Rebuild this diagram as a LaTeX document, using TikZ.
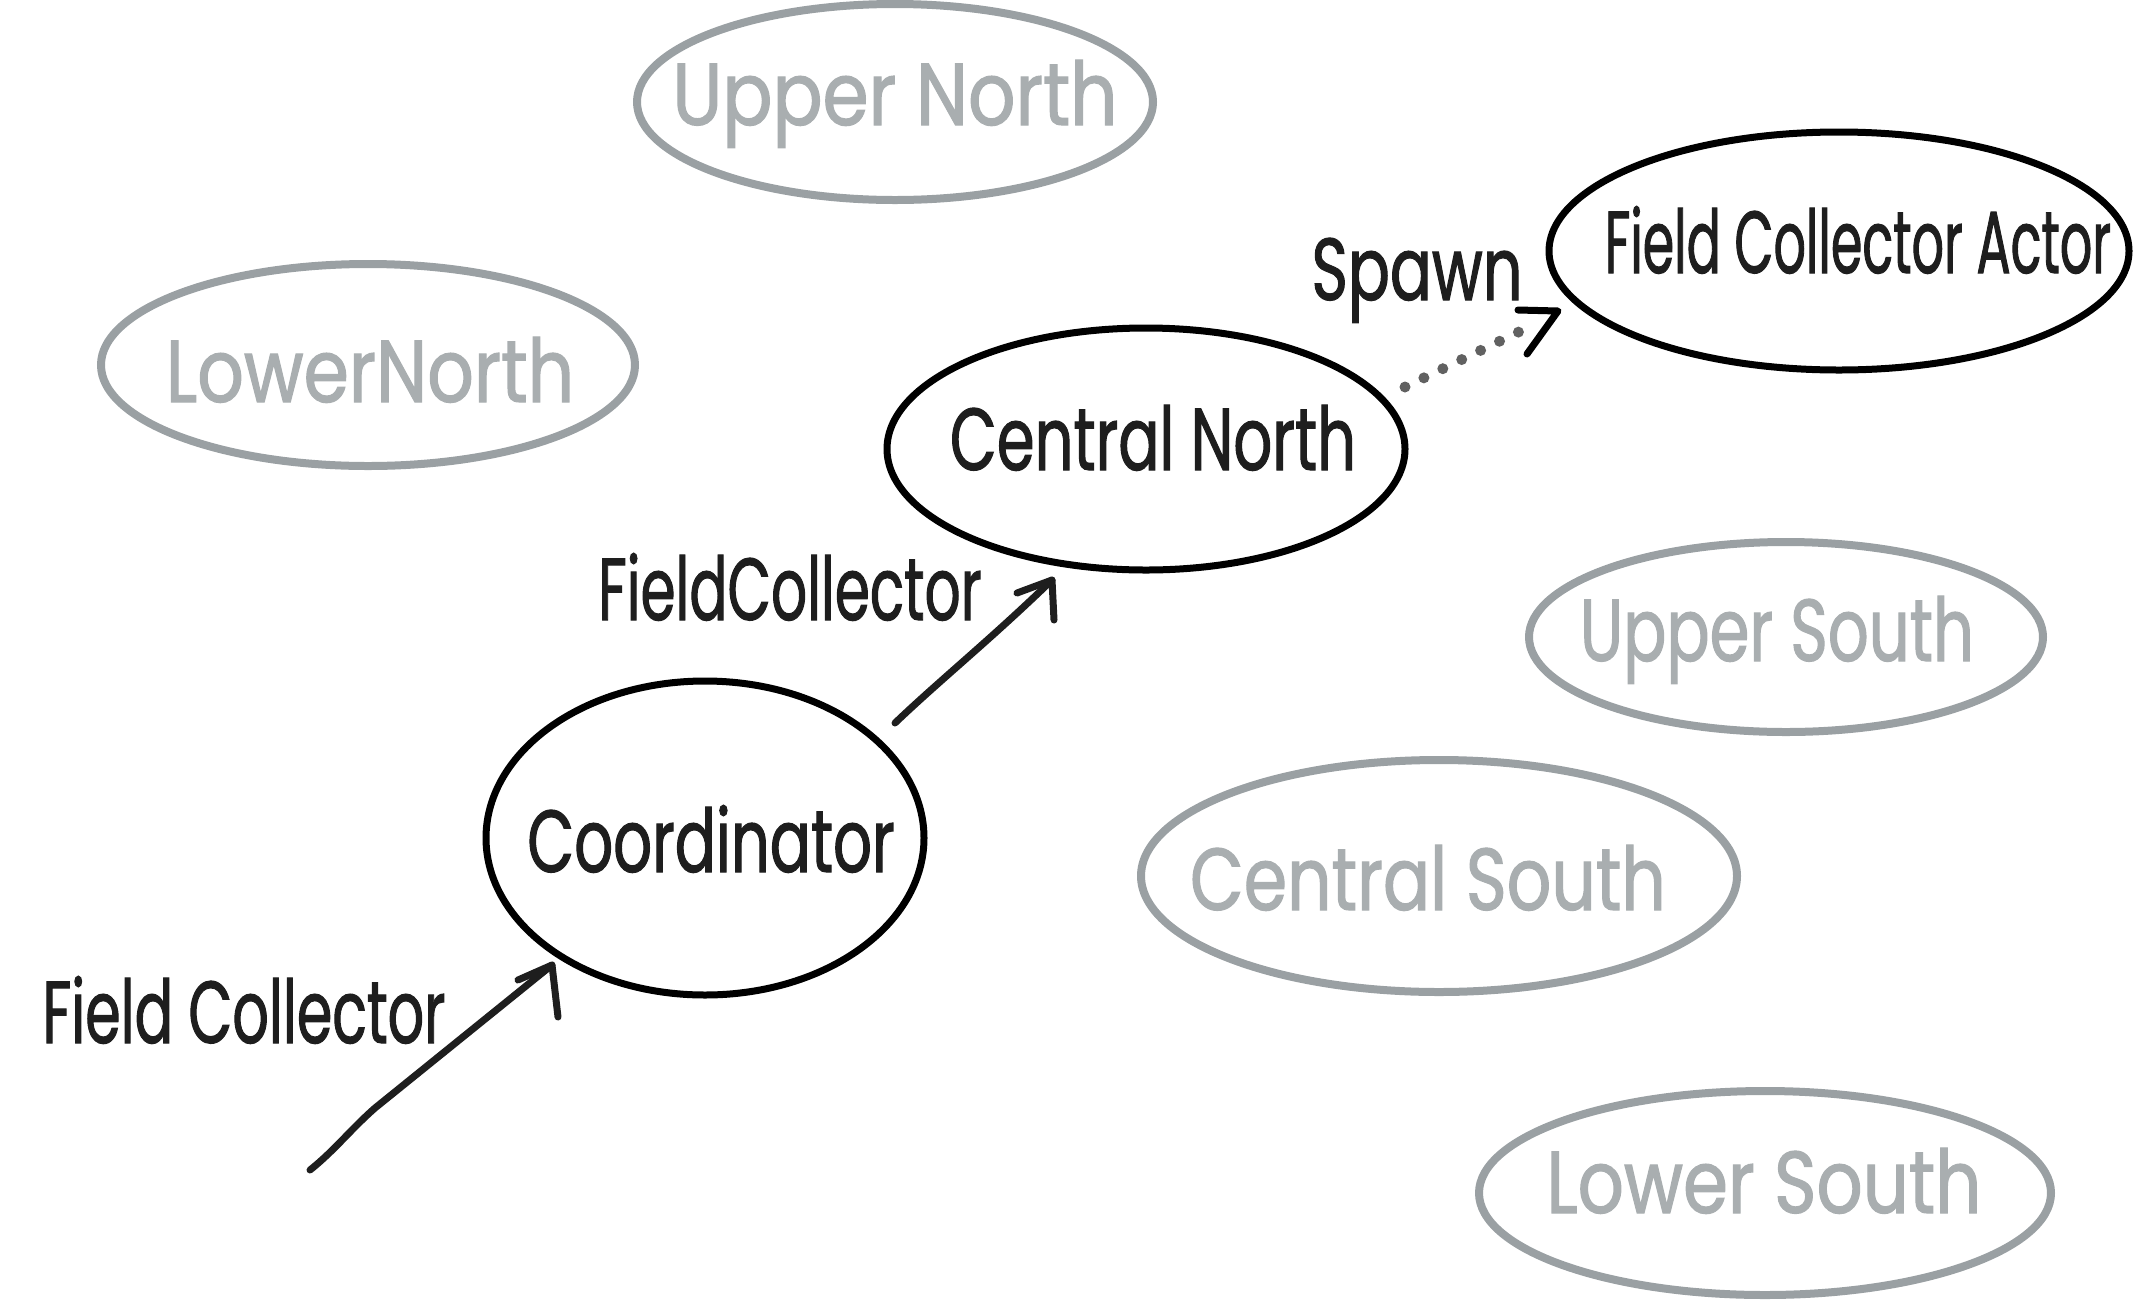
\documentclass[tikz,border=0pt]{standalone}
\usepackage{fontspec}
\setmainfont{Poppins}[FakeStretch=0.72,FakeBold=1.2]
\usetikzlibrary{shapes.geometric,calc}
\definecolor{gstroke}{HTML}{9AA0A3}
\definecolor{gtext}{HTML}{A9AEB0}
\definecolor{ink}{HTML}{1E1E1E}
\newcommand{\hs}[2]{\scalebox{#1}[1]{#2}}
\tikzset{
  hand/.style={font=\fontsize{88}{96}\selectfont, inner sep=0pt, anchor=base},
  actbox/.style={ellipse, draw=black, line width=7pt, inner sep=0pt},
  idlebox/.style={ellipse, draw=gstroke, line width=8pt, inner sep=0pt},
  acttext/.style={hand, text=ink},
  idletext/.style={hand, text=gtext},
  lbl/.style={hand, text=ink},
  hline/.style={draw=ink, line width=7pt, line cap=round, line join=round},
}
\begin{document}
\begin{tikzpicture}[x=1pt,y=-1pt]
\useasboundingbox (0,0) rectangle (2137,1302);
% ellipses
\node[idlebox, minimum width=516pt, minimum height=196pt] (un) at (895,102) {};
\node[idlebox, minimum width=534pt, minimum height=202pt] (ln) at (368,365) {};
\node[actbox, minimum width=580pt, minimum height=238pt] (fca) at (1839,251) {};
\node[actbox, minimum width=518pt, minimum height=242pt] (cn) at (1146,449) {};
\node[idlebox, minimum width=514pt, minimum height=190pt] (us) at (1786,637) {};
\node[actbox, minimum width=438pt, minimum height=314pt] (co) at (705,838) {};
\node[idlebox, minimum width=596pt, minimum height=232pt] (cs) at (1439,876) {};
\node[idlebox, minimum width=572pt, minimum height=204pt] (ls) at (1765,1193) {};
% texts in ellipses
\node[idletext] (un-t) at (895,125) {\hs{1.17}{Upper North}};
\node[idletext] (ln-t) at (370,402) {\hs{1.15}{LowerNorth}};
\node[acttext] (fca-t) at (1858,273) {\hs{0.8}{Field Collector Actor}};
\node[acttext] (cn-t) at (1153,470) {\hs{0.96}{Central North}};
\node[idletext] (us-t) at (1777,661) {\hs{1.01}{Upper South}};
\node[acttext] (co-t) at (711,872) {\hs{0.96}{Coordinator}};
\node[idletext] (cs-t) at (1428,910) {\hs{1.1}{Central South}};
\node[idletext] (ls-t) at (1764,1213) {\hs{1.14}{Lower South}};
% connector labels
\node[lbl] (l1) at (244,1043) {\hs{0.9}{Field Collector}};
\node[lbl] (l2) at (790,620) {\hs{0.89}{FieldCollector}};
\node[lbl] (l3) at (1417,300) {\hs{0.98}{Spawn}};
% connector end points
\coordinate (a1s) at (310,1170);
\coordinate (a1e) at (552,965);
\coordinate (a2s) at (895,723);
\coordinate (a2e) at (1052,580);
\coordinate (a3s) at (1405,387);
\coordinate (a3d) at (1531,326);
\coordinate (a3e) at (1558,311);
% connectors
\draw[hline] (a1s) .. controls (335,1150) and (350,1130) .. (375,1108) -- (a1e);
\draw[hline] (518,980) -- (a1e) -- (558,1017);
\draw[hline] (a2s) .. controls (940,680) and (990,640) .. (a2e);
\draw[hline] (1017,593) -- (a2e) -- (1054,620);
\draw[draw=ink!70, line width=11pt, line cap=round, dash pattern=on 0pt off 21pt] (a3s) -- (a3d);
\draw[hline, draw=black] (1518,310) -- (a3e) -- (1527,354);
\end{tikzpicture}
\end{document}
